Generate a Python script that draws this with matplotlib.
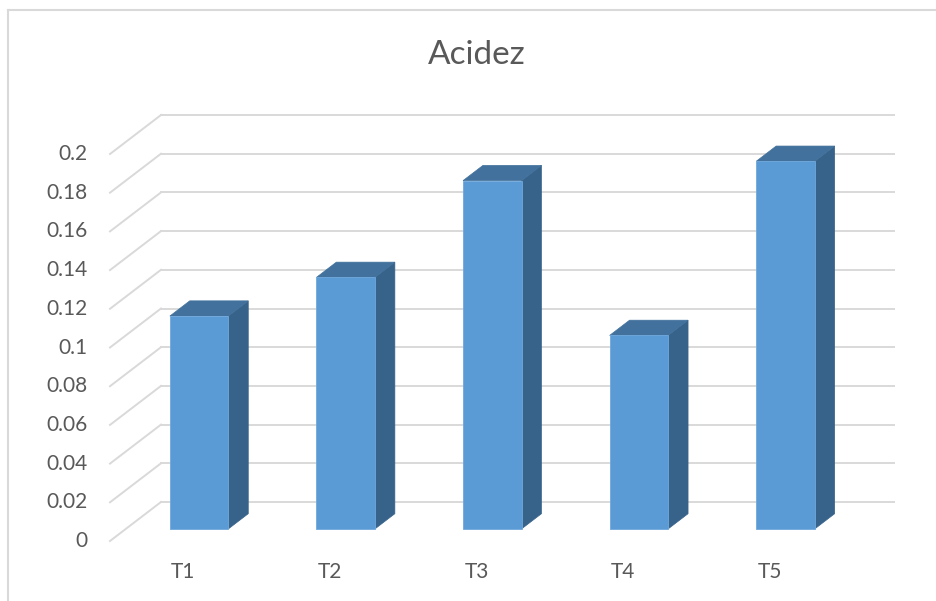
import matplotlib
matplotlib.use("Agg")
import matplotlib.pyplot as plt
from matplotlib.patches import Polygon, Rectangle
from matplotlib.lines import Line2D

title = "Acidez"
categories = ["T1", "T2", "T3", "T4", "T5"]
values = [0.11, 0.13, 0.18, 0.10, 0.19]
yticks = [0, 0.02, 0.04, 0.06, 0.08, 0.1, 0.12, 0.14, 0.16, 0.18, 0.2]
ytick_labels = ["0", "0.02", "0.04", "0.06", "0.08", "0.1", "0.12", "0.14", "0.16", "0.18", "0.2"]

FRONT = "#5B9BD5"
TOP = "#41719C"
SIDE = "#37628A"
GRID = "#D9D9D9"
TXT = "#595959"
FONT = ["Lato", "DejaVu Sans"]

W, H = 937, 601
fig = plt.figure(figsize=(W / 100, H / 100), dpi=100)
fig.patch.set_facecolor("white")

# frame of chart area
fig.add_artist(Line2D([8 / W, 1], [1 - 10 / H, 1 - 10 / H], transform=fig.transFigure, color=GRID, lw=1.5))
fig.add_artist(Line2D([8 / W, 8 / W], [0, 1 - 10 / H], transform=fig.transFigure, color=GRID, lw=1.5))

# axes covering the front plane of the 3D plot
left_px, right_px = 110, 843
y0_px, ytop_px = 541, 154
ax = fig.add_axes([left_px / W, 1 - y0_px / H, (right_px - left_px) / W, (y0_px - ytop_px) / H])
n = len(categories)
ax.set_xlim(-0.5, n - 0.5)
ax.set_ylim(0, 0.2)
ax.axis("off")

cat_px = (right_px - left_px) / n
val_px = (y0_px - ytop_px) / 0.2
DX = 51 / cat_px          # full depth in category units
DY = 39 / val_px          # full depth in value units

# back wall + floor-edge gridlines
for v in yticks:
    ax.plot([-0.5, -0.5 + DX], [v, v + DY], color=GRID, lw=1.4, clip_on=False, zorder=1)
    ax.plot([-0.5 + DX, n - 0.5 + DX], [v + DY, v + DY], color=GRID, lw=1.4, clip_on=False, zorder=1)

# bars
d1 = 0.31
bd = 0.39
w = 58.5 / cat_px
for i, v in enumerate(values):
    x0 = i + d1 * DX - w / 2
    yb = d1 * DY
    side = Polygon([(x0 + w, yb), (x0 + w + bd * DX, yb + bd * DY),
                    (x0 + w + bd * DX, yb + v + bd * DY), (x0 + w, yb + v)],
                   closed=True, facecolor=SIDE, edgecolor=SIDE, lw=0.5, clip_on=False, zorder=3)
    top = Polygon([(x0, yb + v), (x0 + w, yb + v), (x0 + w + bd * DX, yb + v + bd * DY),
                   (x0 + bd * DX, yb + v + bd * DY)],
                  closed=True, facecolor=TOP, edgecolor=TOP, lw=0.5, clip_on=False, zorder=3)
    front = Rectangle((x0, yb), w, v, facecolor=FRONT, edgecolor="#6FA8DC", lw=0.6,
                      clip_on=False, zorder=4)
    ax.add_patch(side)
    ax.add_patch(top)
    ax.add_patch(front)

# y tick labels
for v, lab in zip(yticks, ytick_labels):
    ax.annotate(lab, xy=(-0.5, v), xytext=(-16, 0), textcoords="offset points",
                ha="right", va="center", fontsize=15, color=TXT, family=FONT,
                annotation_clip=False)

# category labels
for i, c in enumerate(categories):
    ax.annotate(c, xy=(i, 0), xytext=(0, -22), textcoords="offset points",
                ha="center", va="center", fontsize=15, color=TXT, family=FONT,
                annotation_clip=False)

fig.text(477 / W, 1 - 55 / H, title, ha="center", va="center", fontsize=24, color=TXT, family=FONT)

fig.savefig("out.png", dpi=100, facecolor="white")
